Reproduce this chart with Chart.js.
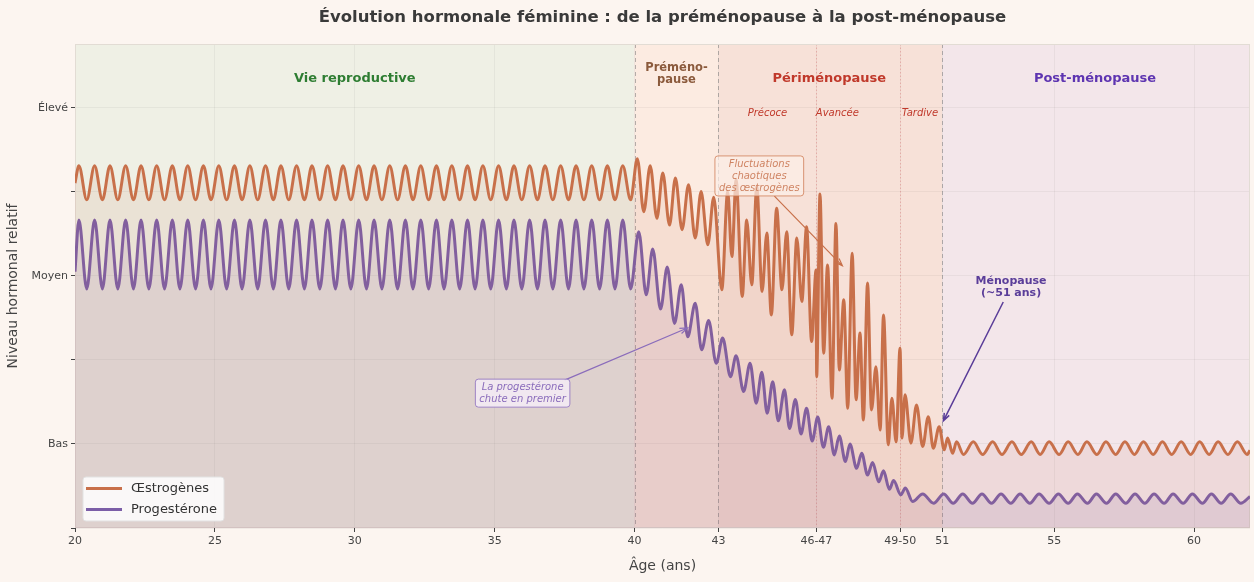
<!DOCTYPE html>
<html lang="fr">
<head>
<meta charset="utf-8">
<title>Évolution hormonale féminine</title>
<script src="https://cdn.jsdelivr.net/npm/chart.js@4.4.1/dist/chart.umd.min.js"></script>
<style>
  html, body { margin: 0; padding: 0; background: #fcf5f0; }
  #wrap { width: 1254px; height: 582px; }
</style>
</head>
<body>
<div id="wrap"><canvas id="hormoneChart" width="1254" height="582"></canvas></div>
<script>
// ages of the regular cycles (reproductive life), shared by both hormones
const reproAges = [20.00,
  20.14, 20.42, 20.70, 20.98, 21.25, 21.53, 21.81, 22.09, 22.36, 22.64, 22.92, 23.20,
  23.48, 23.75, 24.03, 24.31, 24.59, 24.86, 25.14, 25.42, 25.70, 25.97, 26.25, 26.53,
  26.81, 27.09, 27.36, 27.64, 27.92, 28.20, 28.47, 28.75, 29.03, 29.31, 29.58, 29.86,
  30.14, 30.42, 30.69, 30.97, 31.25, 31.53, 31.81, 32.08, 32.36, 32.64, 32.92, 33.19,
  33.47, 33.75, 34.03, 34.30, 34.58, 34.86, 35.14, 35.42, 35.69, 35.97, 36.25, 36.53,
  36.80, 37.08, 37.36, 37.64, 37.91, 38.19, 38.47, 38.75, 39.03, 39.30, 39.58, 39.86];

const estroRepro = [0.821,
  0.862, 0.781, 0.862, 0.781, 0.862, 0.781, 0.862, 0.781, 0.862, 0.781, 0.862, 0.781,
  0.862, 0.781, 0.862, 0.781, 0.862, 0.781, 0.862, 0.781, 0.862, 0.781, 0.862, 0.781,
  0.862, 0.781, 0.862, 0.781, 0.862, 0.781, 0.862, 0.781, 0.862, 0.781, 0.862, 0.781,
  0.862, 0.781, 0.862, 0.781, 0.862, 0.781, 0.862, 0.781, 0.862, 0.781, 0.862, 0.781,
  0.862, 0.781, 0.862, 0.781, 0.862, 0.781, 0.862, 0.781, 0.862, 0.781, 0.862, 0.781,
  0.862, 0.781, 0.862, 0.781, 0.862, 0.781, 0.862, 0.781, 0.862, 0.781, 0.862, 0.781];

const progRepro = [0.610,
  0.733, 0.569, 0.733, 0.569, 0.733, 0.569, 0.733, 0.569, 0.733, 0.569, 0.733, 0.569,
  0.733, 0.569, 0.733, 0.569, 0.733, 0.569, 0.733, 0.569, 0.733, 0.569, 0.733, 0.569,
  0.733, 0.569, 0.733, 0.569, 0.733, 0.569, 0.733, 0.569, 0.733, 0.569, 0.733, 0.569,
  0.733, 0.569, 0.733, 0.569, 0.733, 0.569, 0.733, 0.569, 0.733, 0.569, 0.733, 0.569,
  0.733, 0.569, 0.733, 0.569, 0.733, 0.569, 0.733, 0.569, 0.733, 0.569, 0.733, 0.569,
  0.733, 0.569, 0.733, 0.569, 0.733, 0.569, 0.733, 0.569, 0.733, 0.569, 0.733, 0.569];

// from 40 on: premenopause, chaotic perimenopause, then post-menopause
const estroLateAges = [
  40.10, 40.33, 40.56, 40.80, 41.01, 41.25, 41.46, 41.70, 41.93, 42.17,
  42.38, 42.62, 42.83, 43.12, 43.33, 43.48, 43.63, 43.85, 44.01, 44.19,
  44.37, 44.56, 44.73, 44.89, 45.08, 45.27, 45.44, 45.62, 45.80, 45.98,
  46.15, 46.33, 46.49, 46.51, 46.63, 46.76, 46.90, 47.06, 47.20, 47.32,
  47.48, 47.62, 47.78, 47.92, 48.06, 48.18, 48.33, 48.47, 48.63, 48.78,
  48.90, 49.07, 49.20, 49.35, 49.49, 49.56, 49.67, 49.88, 50.08, 50.30,
  50.50, 50.68, 50.89, 51.07, 51.19, 51.37, 51.51, 51.76, 52.11, 52.44,
  52.80, 53.13, 53.49, 53.82, 54.18, 54.50, 54.82, 55.18, 55.50, 55.85,
  56.17, 56.53, 56.85, 57.20, 57.53, 57.87, 58.19, 58.54, 58.87, 59.20,
  59.54, 59.88, 60.20, 60.54, 60.86, 61.21, 61.55, 61.90, 62.00];

const estroLate = [
  0.879, 0.753, 0.862, 0.737, 0.845, 0.721, 0.833, 0.710, 0.817, 0.690,
  0.801, 0.674, 0.787, 0.567, 0.801, 0.646, 0.829, 0.551, 0.733, 0.579,
  0.813, 0.563, 0.702, 0.507, 0.761, 0.567, 0.705, 0.460, 0.690, 0.539,
  0.717, 0.444, 0.614, 0.360, 0.795, 0.416, 0.626, 0.309, 0.725, 0.376,
  0.543, 0.285, 0.654, 0.305, 0.464, 0.257, 0.583, 0.281, 0.384, 0.233,
  0.507, 0.198, 0.309, 0.205, 0.428, 0.214, 0.317, 0.202, 0.293, 0.194,
  0.265, 0.190, 0.241, 0.186, 0.214, 0.178, 0.205, 0.175, 0.205, 0.175,
  0.205, 0.175, 0.205, 0.175, 0.205, 0.175, 0.205, 0.175, 0.205, 0.175,
  0.205, 0.175, 0.205, 0.175, 0.205, 0.175, 0.205, 0.175, 0.205, 0.175,
  0.205, 0.175, 0.205, 0.175, 0.205, 0.175, 0.205, 0.175, 0.185];

const progLateAges = [
  40.15, 40.42, 40.65, 40.93, 41.17, 41.43, 41.67, 41.90, 42.17, 42.40,
  42.65, 42.92, 43.15, 43.43, 43.63, 43.90, 44.13, 44.35, 44.55, 44.74,
  44.94, 45.14, 45.36, 45.54, 45.75, 45.95, 46.15, 46.35, 46.55, 46.75,
  46.94, 47.14, 47.32, 47.54, 47.70, 47.94, 48.12, 48.33, 48.51, 48.73,
  48.90, 49.11, 49.26, 49.52, 49.68, 49.94, 50.30, 50.69, 51.05, 51.39,
  51.73, 52.08, 52.42, 52.76, 53.10, 53.45, 53.78, 54.13, 54.46, 54.82,
  55.15, 55.50, 55.83, 56.19, 56.51, 56.87, 57.20, 57.56, 57.89, 58.24,
  58.57, 58.93, 59.25, 59.61, 59.94, 60.30, 60.62, 60.97, 61.31, 61.67,
  62.00];

const progLate = [
  0.705, 0.555, 0.664, 0.521, 0.621, 0.487, 0.579, 0.455, 0.535, 0.424,
  0.494, 0.392, 0.452, 0.360, 0.410, 0.325, 0.392, 0.297, 0.371, 0.273,
  0.348, 0.255, 0.329, 0.237, 0.306, 0.224, 0.285, 0.207, 0.264, 0.192,
  0.241, 0.174, 0.219, 0.158, 0.200, 0.142, 0.178, 0.126, 0.156, 0.110,
  0.136, 0.092, 0.113, 0.079, 0.095, 0.063, 0.081, 0.059, 0.081, 0.059,
  0.081, 0.059, 0.081, 0.059, 0.081, 0.059, 0.081, 0.059, 0.081, 0.059,
  0.081, 0.059, 0.081, 0.059, 0.081, 0.059, 0.081, 0.059, 0.081, 0.059,
  0.081, 0.059, 0.081, 0.059, 0.081, 0.059, 0.081, 0.059, 0.081, 0.059,
  0.075];

const xTickValues = [20, 25, 30, 35, 40, 43, 46.5, 49.5, 51, 55, 60];
const xTickLabels = ['20', '25', '30', '35', '40', '43', '46-47', '49-50', '51', '55', '60'];
const yTickValues = [0, 0.2, 0.4, 0.6, 0.8, 1.0];
const yTickLabels = ['', 'Bas', '', 'Moyen', '', 'Élevé'];

const phaseBounds = [20, 40, 43, 51, 62];
const subPhaseBounds = [46.5, 49.5];

const FONT = 'DejaVu Sans';
const ESTRO = '#c8704a';
const PROG = '#7b5ea7';

function toPoints(ages, levels) {
    return ages.map((a, i) => ({ x: a, y: levels[i] }));
}

function drawArrow(ctx, x0, y0, x1, y1, color, width) {
    const ang = Math.atan2(y1 - y0, x1 - x0);
    const head = 8;
    ctx.save();
    ctx.strokeStyle = color;
    ctx.lineWidth = width;
    ctx.beginPath();
    ctx.moveTo(x0, y0);
    ctx.lineTo(x1, y1);
    ctx.moveTo(x1 - head * Math.cos(ang - 0.35), y1 - head * Math.sin(ang - 0.35));
    ctx.lineTo(x1, y1);
    ctx.lineTo(x1 - head * Math.cos(ang + 0.35), y1 - head * Math.sin(ang + 0.35));
    ctx.stroke();
    ctx.restore();
}

function roundRect(ctx, x, y, w, h, r) {
    ctx.beginPath();
    ctx.moveTo(x + r, y);
    ctx.lineTo(x + w - r, y);
    ctx.quadraticCurveTo(x + w, y, x + w, y + r);
    ctx.lineTo(x + w, y + h - r);
    ctx.quadraticCurveTo(x + w, y + h, x + w - r, y + h);
    ctx.lineTo(x + r, y + h);
    ctx.quadraticCurveTo(x, y + h, x, y + h - r);
    ctx.lineTo(x, y + r);
    ctx.quadraticCurveTo(x, y, x + r, y);
    ctx.closePath();
}

function drawLines(ctx, lines, cx, cy, lineH) {
    const start = cy - (lines.length - 1) * lineH / 2;
    lines.forEach((t, i) => ctx.fillText(t, cx, start + i * lineH));
}

function boxedText(ctx, lines, cx, cy, lineH, font, color, border, bg) {
    ctx.save();
    ctx.font = font;
    const w = Math.max(...lines.map(t => ctx.measureText(t).width)) + 8;
    const h = lines.length * lineH + 4;
    roundRect(ctx, cx - w / 2, cy - h / 2, w, h, 3);
    ctx.fillStyle = bg;
    ctx.fill();
    ctx.strokeStyle = border;
    ctx.lineWidth = 1;
    ctx.stroke();
    ctx.fillStyle = color;
    ctx.textAlign = 'center';
    ctx.textBaseline = 'middle';
    drawLines(ctx, lines, cx, cy, lineH);
    ctx.restore();
}

const decorPlugin = {
    id: 'decor',
    beforeDraw(chart) {
        const { ctx, chartArea: a, scales: { x } } = chart;
        const colors = ['#eff0e5', '#fcebe1', '#f7e1d8', '#f3e6ea'];
        ctx.save();
        ctx.fillStyle = '#fcf5f0';
        ctx.fillRect(0, 0, chart.width, chart.height);
        for (let i = 0; i < colors.length; i++) {
            const x0 = x.getPixelForValue(phaseBounds[i]);
            const x1 = x.getPixelForValue(phaseBounds[i + 1]);
            ctx.fillStyle = colors[i];
            ctx.fillRect(x0, a.top, x1 - x0, a.bottom - a.top);
        }
        ctx.restore();
    },
    beforeDatasetsDraw(chart) {
        const { ctx, chartArea: a, scales: { x } } = chart;
        ctx.save();
        ctx.lineWidth = 1;
        ctx.strokeStyle = 'rgba(120,120,120,0.55)';
        ctx.setLineDash([4, 3]);
        phaseBounds.slice(1, 4).forEach(v => {
            const px = Math.round(x.getPixelForValue(v)) + 0.5;
            ctx.beginPath();
            ctx.moveTo(px, a.top);
            ctx.lineTo(px, a.bottom);
            ctx.stroke();
        });
        ctx.strokeStyle = 'rgba(220,120,120,0.45)';
        ctx.setLineDash([1.5, 2]);
        subPhaseBounds.forEach(v => {
            const px = Math.round(x.getPixelForValue(v)) + 0.5;
            ctx.beginPath();
            ctx.moveTo(px, a.top);
            ctx.lineTo(px, a.bottom);
            ctx.stroke();
        });
        ctx.setLineDash([]);
        ctx.strokeStyle = '#e2dcd4';
        ctx.strokeRect(a.left + 0.5, a.top + 0.5, a.right - a.left - 1, a.bottom - a.top - 1);
        ctx.restore();
    },
    afterDatasetsDraw(chart) {
        const { ctx, chartArea: a, scales: { x, y } } = chart;
        const X = v => x.getPixelForValue(v);
        const Y = v => y.getPixelForValue(v);
        ctx.save();
        ctx.textAlign = 'center';
        ctx.textBaseline = 'middle';

        // title
        ctx.fillStyle = '#3a3a3a';
        ctx.font = `bold 16.5px "${FONT}"`;
        ctx.fillText('Évolution hormonale féminine : de la préménopause à la post-ménopause', (a.left + a.right) / 2, 18);

        // phase names
        ctx.font = `bold 13px "${FONT}"`;
        ctx.fillStyle = '#2e7d32';
        ctx.fillText('Vie reproductive', X(30), Y(1.069));
        ctx.fillStyle = '#c0392b';
        ctx.fillText('Périménopause', X(46.96), Y(1.069));
        ctx.fillStyle = '#5e35b1';
        ctx.fillText('Post-ménopause', X(56.46), Y(1.069));
        ctx.font = `bold 11.5px "${FONT}"`;
        ctx.fillStyle = '#8b5a3c';
        drawLines(ctx, ['Préméno-', 'pause'], X(41.5), Y(1.081), 12.5);

        ctx.font = `italic 10px "${FONT}"`;
        ctx.fillStyle = '#c0392b';
        ctx.fillText('Précoce', X(44.75), Y(0.986));
        ctx.fillText('Avancée', X(47.25), Y(0.986));
        ctx.fillText('Tardive', X(50.2), Y(0.986));

        // annotations
        drawArrow(ctx, X(45.0), Y(0.790), X(47.43), Y(0.624), '#c8704a', 1.2);
        boxedText(ctx, ['Fluctuations', 'chaotiques', 'des œstrogènes'], X(44.46), Y(0.838), 12,
            `italic 10px "${FONT}"`, '#cf8463', 'rgba(205,120,80,0.75)', 'rgba(252,240,232,0.7)');

        drawArrow(ctx, X(37.5), Y(0.352), X(41.89), Y(0.476), '#8a6cbb', 1.2);
        boxedText(ctx, ['La progestérone', 'chute en premier'], X(36.0), Y(0.321), 12,
            `italic 10px "${FONT}"`, '#8a6cbb', 'rgba(140,110,190,0.8)', 'rgba(244,236,246,0.85)');

        drawArrow(ctx, X(53.18), Y(0.538), X(51.04), Y(0.255), '#5a3d99', 1.5);
        ctx.font = `bold 11px "${FONT}"`;
        ctx.fillStyle = '#5a3d99';
        drawLines(ctx, ['Ménopause', '(~51 ans)'], X(53.46), Y(0.574), 12);

        // legend
        const lx = a.left + 8, ly = a.bottom - 51;
        roundRect(ctx, lx, ly, 141, 44, 3);
        ctx.fillStyle = 'rgba(255,255,255,0.85)';
        ctx.fill();
        ctx.strokeStyle = '#e2e2e2';
        ctx.lineWidth = 1;
        ctx.stroke();
        ctx.textAlign = 'left';
        ctx.font = `13px "${FONT}"`;
        chart.data.datasets.forEach((ds, i) => {
            const yy = ly + 11.5 + i * 21;
            ctx.strokeStyle = ds.borderColor;
            ctx.lineWidth = 3;
            ctx.beginPath();
            ctx.moveTo(lx + 3, yy);
            ctx.lineTo(lx + 39, yy);
            ctx.stroke();
            ctx.fillStyle = '#333';
            ctx.fillText(ds.label, lx + 48, yy);
        });
        ctx.restore();
    }
};

const ctx = document.getElementById('hormoneChart').getContext('2d');
new Chart(ctx, {
    type: 'line',
    data: {
        datasets: [{
            label: 'Œstrogènes',
            data: toPoints(reproAges.concat(estroLateAges), estroRepro.concat(estroLate)),
            borderColor: ESTRO,
            backgroundColor: 'rgba(200,112,74,0.10)',
            borderWidth: 3,
            fill: 'origin',
            pointRadius: 0,
            cubicInterpolationMode: 'monotone',
            borderJoinStyle: 'round'
        }, {
            label: 'Progestérone',
            data: toPoints(reproAges.concat(progLateAges), progRepro.concat(progLate)),
            borderColor: PROG,
            backgroundColor: 'rgba(123,94,167,0.12)',
            borderWidth: 3,
            fill: 'origin',
            pointRadius: 0,
            cubicInterpolationMode: 'monotone',
            borderJoinStyle: 'round'
        }]
    },
    options: {
        responsive: false,
        animation: false,
        layout: { padding: { top: 44, right: 4, left: 0, bottom: 0 } },
        plugins: {
            legend: { display: false },
            tooltip: { enabled: false }
        },
        scales: {
            x: {
                type: 'linear',
                min: 20,
                max: 62,
                afterBuildTicks: s => { s.ticks = xTickValues.map(v => ({ value: v })); },
                afterFit: s => { s.height = 54; },
                ticks: {
                    callback: (v, i) => xTickLabels[i],
                    font: { family: FONT, size: 11 },
                    color: '#444',
                    maxRotation: 0,
                    autoSkip: false,
                    padding: 3
                },
                grid: { color: 'rgba(0,0,0,0.045)', tickColor: '#444', tickLength: 4 },
                border: { display: false },
                title: {
                    display: true,
                    text: 'Âge (ans)',
                    font: { family: FONT, size: 14 },
                    color: '#444',
                    padding: { top: 0, bottom: 7 }
                }
            },
            y: {
                min: 0,
                max: 1.152,
                afterBuildTicks: s => { s.ticks = yTickValues.map(v => ({ value: v })); },
                afterFit: s => { s.width = 75; },
                ticks: {
                    callback: (v, i) => yTickLabels[i],
                    font: { family: FONT, size: 11 },
                    color: '#444',
                    padding: 3
                },
                grid: { color: 'rgba(0,0,0,0.045)', tickColor: '#444', tickLength: 4 },
                border: { display: false },
                title: {
                    display: true,
                    text: 'Niveau hormonal relatif',
                    font: { family: FONT, size: 14 },
                    color: '#444',
                    padding: { top: 5, bottom: 0 }
                }
            }
        }
    },
    plugins: [decorPlugin]
});
</script>
</body>
</html>
